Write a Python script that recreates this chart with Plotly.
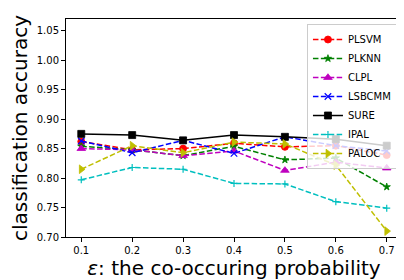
import plotly.graph_objects as go

x_vals = [0.1, 0.2, 0.3, 0.4, 0.5, 0.6, 0.7]
plsvm = [0.862, 0.848, 0.850, 0.859, 0.853, 0.855, 0.839]
plknn = [0.854, 0.848, 0.838, 0.854, 0.831, 0.834, 0.785]
clpl = [0.850, 0.848, 0.838, 0.846, 0.813, 0.827, 0.817]
lsbcmm = [0.863, 0.843, 0.864, 0.842, 0.870, 0.855, 0.846]
sure = [0.875, 0.873, 0.864, 0.873, 0.870, 0.866, 0.855]
ipal = [0.797, 0.818, 0.815, 0.791, 0.790, 0.760, 0.749]
paloc = [0.815, 0.855, 0.843, 0.861, 0.858, 0.822, 0.710]

y_ticks = [0.70, 0.75, 0.80, 0.85, 0.90, 0.95, 1.00, 1.05]

series = [
    ("PLSVM", plsvm, "#ff0000", "circle", 7, "dash"),
    ("PLKNN", plknn, "#008000", "star", 5.5, "dash"),
    ("CLPL", clpl, "#bf00bf", "triangle-up", 7.5, "dash"),
    ("LSBCMM", lsbcmm, "#0000ff", "x-thin", 6.5, "dash"),
    ("SURE", sure, "#000000", "square", 7, "solid"),
    ("IPAL", ipal, "#00bfbf", "cross-thin", 5, "dash"),
    ("PALOC", paloc, "#bfbf00", "triangle-right", 7.5, "dash"),
]

fig = go.Figure()
for name, vals, color, sym, size, dash in series:
    thin = sym.endswith("-thin")
    fig.add_trace(go.Scatter(
        x=x_vals, y=vals, name=name, mode="lines+markers",
        line=dict(color=color, width=1.5, dash="5.5px,2.4px" if dash == "dash" else "solid"),
        marker=dict(symbol=sym, size=size, color=color,
                    line=dict(color=color, width=1.2 if thin else 0.8)),
    ))

font = "DejaVu Sans, Arial, sans-serif"
axis_common = dict(
    showgrid=False, zeroline=False, showline=True, linecolor="black", linewidth=1,
    mirror=True, ticks="outside", ticklen=4, tickwidth=1, tickcolor="black",
    tickfont=dict(family=font, size=10, color="black"),
)
fig.update_xaxes(
    range=[0.07, 0.73], tickvals=x_vals, tickformat=".1f",
    title=dict(text="<i>ε</i>: the co-occuring probability",
               font=dict(family=font, size=20, color="black"), standoff=3),
    **axis_common,
)
fig.update_yaxes(
    range=[0.70, 1.07], tickvals=y_ticks, tickformat=".2f",
    title=dict(text="classification accuracy",
               font=dict(family=font, size=20, color="black"), standoff=4),
    **axis_common,
)
fig.update_layout(
    width=404, height=280,
    margin=dict(l=58, r=10, t=11, b=51),
    paper_bgcolor="white", plot_bgcolor="white",
    font=dict(family=font, color="black"),
    legend=dict(x=0.985, y=0.977, xanchor="right", yanchor="top",
                bgcolor="rgba(255,255,255,0.8)", bordercolor="#cccccc", borderwidth=1,
                font=dict(family=font, size=10, color="black")),
)
fig.write_html("out.html")
